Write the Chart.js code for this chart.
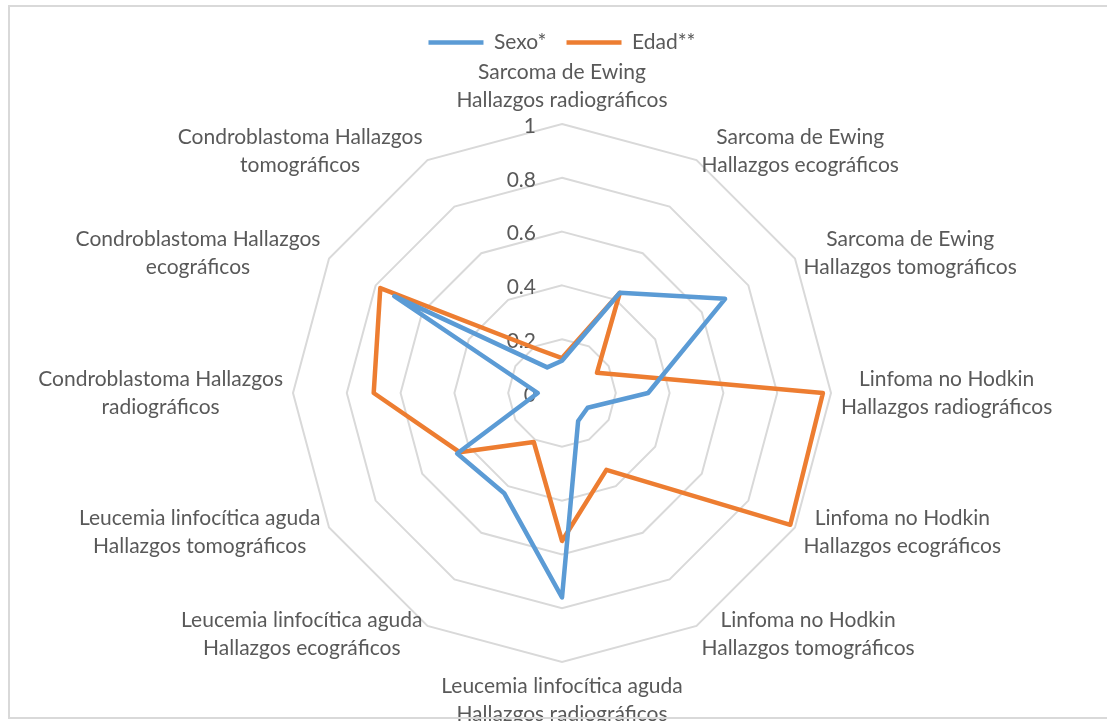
<!DOCTYPE html>
<html>
<head>
<meta charset="utf-8">
<script src="https://cdn.jsdelivr.net/npm/chart.js@4.4.1/dist/chart.umd.min.js"></script>
<style>
  html, body { margin: 0; padding: 0; background: #fff; overflow: hidden; }
  #caja { position: absolute; left: 0; top: 0; width: 1107px; height: 730px; }
  #marco { position: absolute; left: 8px; top: 5px; width: 1110px; height: 710px; border: 2px solid #d9d9d9; }
</style>
</head>
<body>
<div id="caja"><canvas id="grafico"></canvas></div>
<div id="marco"></div>
<script>
  // categorías (cada una en dos líneas, como en el original)
  var categorias = [
    ['Sarcoma de Ewing', 'Hallazgos radiográficos'],
    ['Sarcoma de Ewing', 'Hallazgos ecográficos'],
    ['Sarcoma de Ewing', 'Hallazgos tomográficos'],
    ['Linfoma no Hodkin', 'Hallazgos radiográficos'],
    ['Linfoma no Hodkin', 'Hallazgos ecográficos'],
    ['Linfoma no Hodkin', 'Hallazgos tomográficos'],
    ['Leucemia linfocítica aguda', 'Hallazgos radiográficos'],
    ['Leucemia linfocítica aguda', 'Hallazgos ecográficos'],
    ['Leucemia linfocítica aguda', 'Hallazgos tomográficos'],
    ['Condroblastoma Hallazgos', 'radiográficos'],
    ['Condroblastoma Hallazgos', 'ecográficos'],
    ['Condroblastoma Hallazgos', 'tomográficos']
  ];

  var sexo = [0.12, 0.43, 0.70, 0.32, 0.11, 0.12, 0.76, 0.43, 0.45, 0.09, 0.72, 0.11];
  var edad = [0.13, 0.43, 0.15, 0.97, 0.98, 0.33, 0.55, 0.21, 0.44, 0.70, 0.78, 0.19];

  var valoresEje = [0, 0.2, 0.4, 0.6, 0.8, 1];
  var textosEje = ['0', '0.2', '0.4', '0.6', '0.8', '1'];

  var gris = '#595959';
  var fuente = 'Lato';

  // etiquetas del eje, a la izquierda del eje vertical
  var ticksIzquierda = {
    id: 'ticksIzquierda',
    beforeDatasetsDraw: function (chart) {
      var r = chart.scales.r;
      var ctx = chart.ctx;
      ctx.save();
      ctx.font = '21px ' + fuente;
      ctx.fillStyle = gris;
      ctx.textAlign = 'right';
      ctx.textBaseline = 'middle';
      valoresEje.forEach(function (v, i) {
        var y = r.yCenter - r.getDistanceFromCenterForValue(v);
        ctx.fillText(textosEje[i], r.xCenter - 26, y + 2);
      });
      ctx.restore();
    }
  };

  // etiquetas de categoría centradas línea a línea
  var etiquetas = {
    id: 'etiquetas',
    afterDraw: function (chart) {
      var r = chart.scales.r;
      var ctx = chart.ctx;
      var sep = 10, alto = 28;
      ctx.save();
      ctx.font = '21px ' + fuente;
      ctx.fillStyle = gris;
      ctx.textAlign = 'center';
      ctx.textBaseline = 'middle';
      categorias.forEach(function (lineas, i) {
        var p = r.getPointPosition(i, r.drawingArea + sep);
        var ang = r.getIndexAngle(i);
        var s = Math.sin(ang), c = Math.cos(ang);
        var w = Math.max.apply(null, lineas.map(function (t) { return ctx.measureText(t).width; }));
        var h = lineas.length * alto;
        var cx = p.x, cy = p.y;
        if (s > 0.01) cx += w / 2;
        else if (s < -0.01) cx -= w / 2;
        else cy += (c > 0 ? -h / 2 : h / 2);
        lineas.forEach(function (t, k) {
          ctx.fillText(t, cx, cy - h / 2 + alto * (k + 0.5));
        });
      });
      ctx.restore();
    }
  };

  var ctx = document.getElementById('grafico').getContext('2d');
  var grafico = new Chart(ctx, {
    type: 'radar',
    data: {
      labels: categorias,
      datasets: [{
        label: 'Sexo*',
        data: sexo,
        borderColor: '#5B9BD5',
        backgroundColor: '#5B9BD5',
        borderWidth: 4.5,
        borderCapStyle: 'round',
        borderJoinStyle: 'round',
        fill: false,
        pointRadius: 0,
        pointHoverRadius: 0
      }, {
        label: 'Edad**',
        data: edad,
        borderColor: '#ED7D31',
        backgroundColor: '#ED7D31',
        borderWidth: 4.5,
        borderCapStyle: 'round',
        borderJoinStyle: 'round',
        fill: false,
        pointRadius: 0,
        pointHoverRadius: 0
      }]
    },
    options: {
      responsive: true,
      maintainAspectRatio: false,
      animation: false,
      layout: { padding: { top: 12, left: 293, right: 276, bottom: 6 } },
      plugins: {
        legend: {
          position: 'top',
          labels: {
            usePointStyle: true,
            pointStyle: 'line',
            pointStyleWidth: 55,
            padding: 20,
            color: gris,
            font: { family: fuente, size: 21 }
          }
        },
        tooltip: { enabled: false }
      },
      scales: {
        r: {
          min: 0,
          max: 1,
          ticks: { stepSize: 0.2, display: false },
          grid: { circular: false, color: '#d9d9d9', lineWidth: 2 },
          angleLines: { display: false },
          pointLabels: { display: false }
        }
      }
    },
    plugins: [ticksIzquierda, etiquetas]
  });
</script>
</body>
</html>
